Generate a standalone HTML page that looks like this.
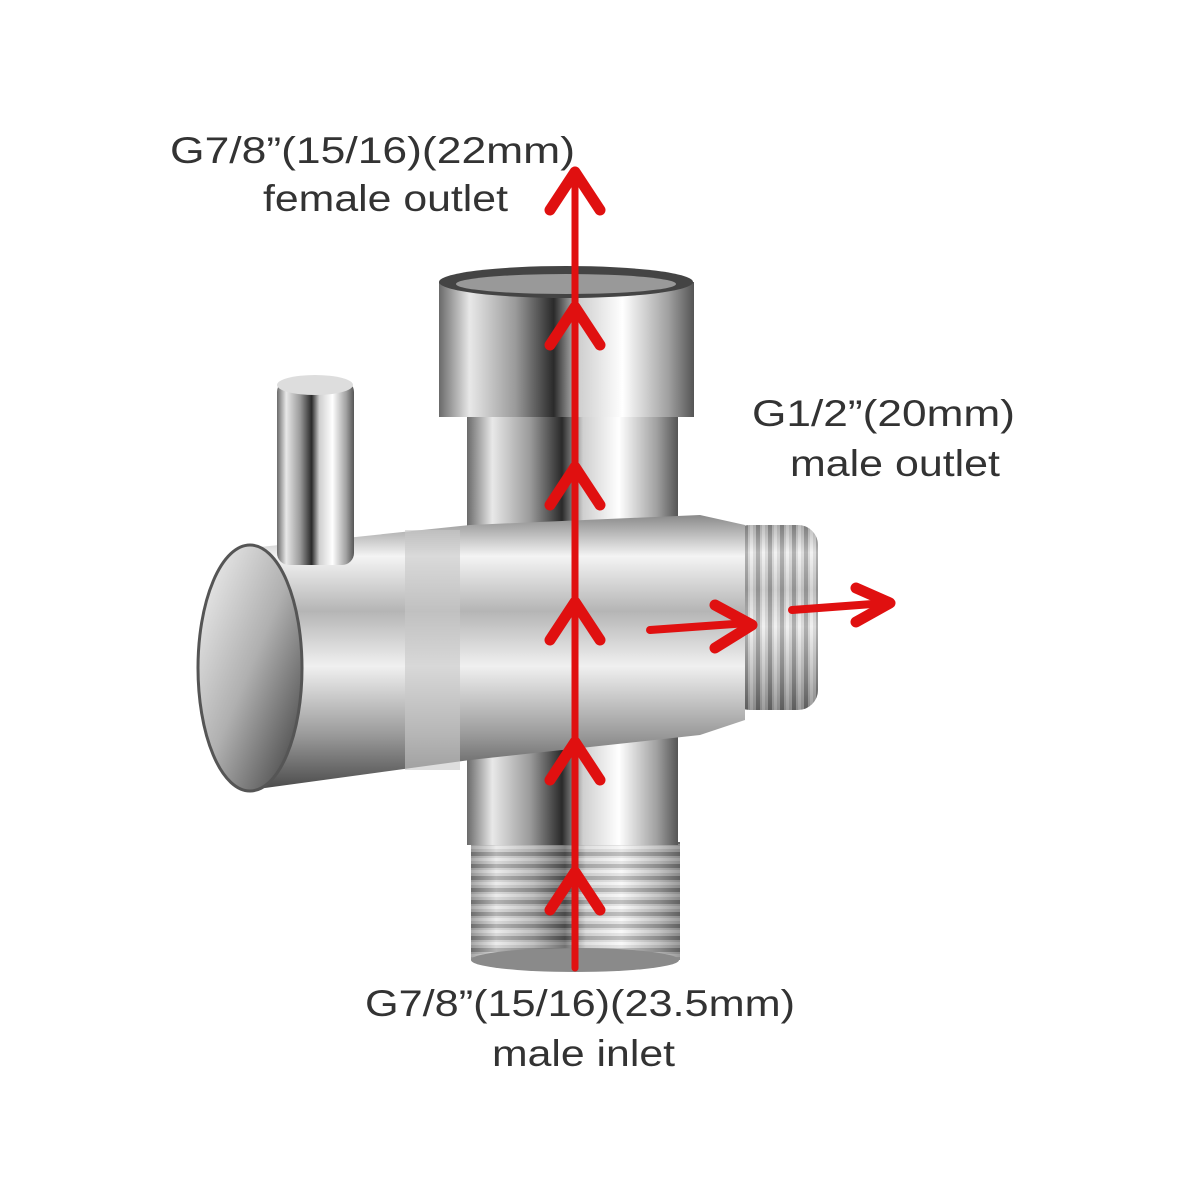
<!DOCTYPE html>
<html><head><meta charset="utf-8"><style>
html,body{margin:0;padding:0;background:#fff;width:1200px;height:1200px;overflow:hidden}
svg{display:block}
text{font-family:"Liberation Sans",sans-serif;fill:#333}
</style></head><body>
<svg width="1200" height="1200" viewBox="0 0 1200 1200" xmlns="http://www.w3.org/2000/svg">
<defs>
<linearGradient id="vc" x1="0" x2="1" y1="0" y2="0">
<stop offset="0" stop-color="#6a6a6a"/><stop offset="0.12" stop-color="#e8e8e8"/><stop offset="0.3" stop-color="#9a9a9a"/><stop offset="0.45" stop-color="#2a2a2a"/><stop offset="0.55" stop-color="#cfcfcf"/><stop offset="0.72" stop-color="#ffffff"/><stop offset="0.9" stop-color="#a0a0a0"/><stop offset="1" stop-color="#555"/>
</linearGradient>
<linearGradient id="hc" x1="0" x2="0" y1="0" y2="1">
<stop offset="0" stop-color="#8a8a8a"/><stop offset="0.15" stop-color="#f4f4f4"/><stop offset="0.35" stop-color="#b5b5b5"/><stop offset="0.55" stop-color="#f0f0f0"/><stop offset="0.8" stop-color="#9a9a9a"/><stop offset="1" stop-color="#4a4a4a"/>
</linearGradient>
<linearGradient id="cap" x1="0" x2="1" y1="0" y2="1">
<stop offset="0" stop-color="#f5f5f5"/><stop offset="0.5" stop-color="#b0b0b0"/><stop offset="1" stop-color="#3a3a3a"/>
</linearGradient>
<pattern id="thr" width="12" height="12" patternUnits="userSpaceOnUse">
<rect width="12" height="12" fill="#c8c8c8"/><rect y="0" width="12" height="4" fill="#707070"/><rect y="6" width="12" height="3" fill="#f0f0f0"/>
</pattern>
<pattern id="thrv" width="12" height="12" patternUnits="userSpaceOnUse">
<rect width="12" height="12" fill="#c8c8c8"/><rect x="0" width="4" height="12" fill="#707070"/><rect x="6" width="3" height="12" fill="#f0f0f0"/>
</pattern>
</defs>

<rect x="471" y="842" width="209" height="118" fill="url(#thr)"/>
<rect x="471" y="842" width="209" height="118" fill="url(#vc)" opacity="0.55"/>
<ellipse cx="575" cy="960" rx="104" ry="12" fill="#8a8a8a"/>
<rect x="467" y="700" width="211" height="145" fill="url(#vc)"/>
<rect x="730" y="525" width="88" height="185" rx="20" fill="url(#thrv)"/>
<rect x="730" y="525" width="88" height="185" rx="20" fill="url(#hc)" opacity="0.5"/>
<rect x="467" y="410" width="211" height="160" fill="url(#vc)"/>
<path d="M250 548 L470 525 L700 515 L745 525 L745 720 L700 735 L470 760 L250 790 Z" fill="url(#hc)"/>
<rect x="405" y="530" width="55" height="240" fill="#c8c8c8" opacity="0.6"/>
<rect x="277" y="380" width="77" height="185" rx="12" fill="url(#vc)"/>
<ellipse cx="315" cy="385" rx="38" ry="10" fill="#ddd"/>
<ellipse cx="250" cy="668" rx="52" ry="123" fill="url(#cap)" stroke="#555" stroke-width="3"/>
<rect x="439" y="282" width="255" height="135" fill="url(#vc)"/>
<ellipse cx="566" cy="282" rx="127" ry="16" fill="#444"/>
<ellipse cx="566" cy="284" rx="110" ry="10" fill="#999"/>

<g stroke="#e01010" fill="none" stroke-linecap="round" stroke-linejoin="round">
<line x1="575" y1="968" x2="575" y2="170" stroke-width="7"/>
<g stroke-width="11">
<polyline points="550,210 575,172 600,210"/>
<polyline points="550,345 575,307 600,345"/>
<polyline points="550,505 575,467 600,505"/>
<polyline points="550,640 575,602 600,640"/>
<polyline points="550,780 575,742 600,780"/>
<polyline points="550,910 575,872 600,910"/>
<polyline points="715,605 752,625 715,648"/>
<polyline points="856,588 890,603 856,622"/>
</g>
<line x1="650" y1="630" x2="748" y2="623" stroke-width="8"/>
<line x1="792" y1="610" x2="886" y2="603" stroke-width="8"/>
</g>

<text x="170" y="163" font-size="37" textLength="405" lengthAdjust="spacingAndGlyphs">G7/8”(15/16)(22mm)</text>
<text x="263" y="211" font-size="37" textLength="245" lengthAdjust="spacingAndGlyphs">female outlet</text>
<text x="752" y="426" font-size="37" textLength="263" lengthAdjust="spacingAndGlyphs">G1/2”(20mm)</text>
<text x="790" y="476" font-size="37" textLength="210" lengthAdjust="spacingAndGlyphs">male outlet</text>
<text x="365" y="1016" font-size="37" textLength="430" lengthAdjust="spacingAndGlyphs">G7/8”(15/16)(23.5mm)</text>
<text x="492" y="1066" font-size="37" textLength="183" lengthAdjust="spacingAndGlyphs">male inlet</text>
</svg>
</body></html>
